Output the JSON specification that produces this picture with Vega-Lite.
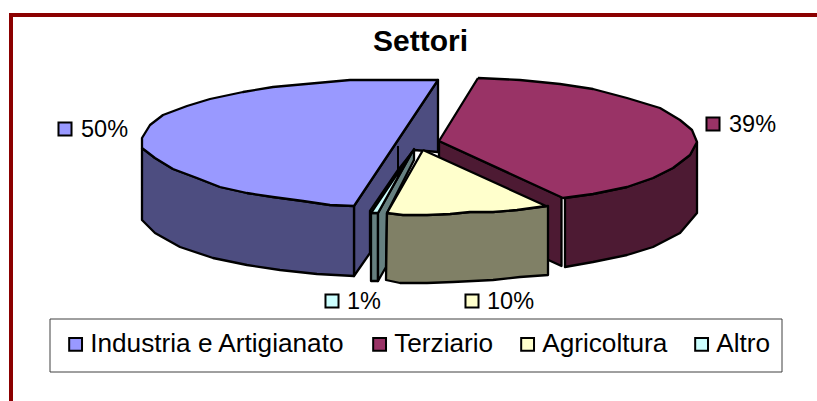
{"$schema":"https://vega.github.io/schema/vega-lite/v6.json","width":817,"height":401,"padding":0,"autosize":"none","background":"white","view":{"stroke":null},
"title":{"text":"Settori","font":"Liberation Sans","fontSize":30,"fontWeight":"bold","color":"black","dx":12,"offset":-81,"baseline":"alphabetic","anchor":"middle"},
"layer":[
{"data":{"values":[{"i":0,"x":11,"y":401},{"i":1,"x":11,"y":15},{"i":2,"x":817,"y":15}]},
"mark":{"type":"line","stroke":"#8B0000","strokeWidth":4,"clip":true},
"encoding":{"x":{"field":"x","type":"quantitative","scale":{"domain":[0,817],"nice":false},"axis":null},"y":{"field":"y","type":"quantitative","scale":{"domain":[401,0],"nice":false},"axis":null},"order":{"field":"i"}}},
{"data":{"values":[{"x":50,"y":319,"x2":782,"y2":372}]},
"mark":{"type":"rect","fill":"white","stroke":"#404040","strokeWidth":1},
"encoding":{"x":{"field":"x","type":"quantitative","scale":{"domain":[0,817],"nice":false},"axis":null},"x2":{"field":"x2"},"y":{"field":"y","type":"quantitative","scale":{"domain":[401,0],"nice":false},"axis":null},"y2":{"field":"y2"}}},
{"data":{"values":[
{"f":"Terziario lato","i":0,"x":439,"y":141},{"f":"Terziario lato","i":1,"x":561.5,"y":197},{"f":"Terziario lato","i":2,"x":561.5,"y":266},{"f":"Terziario lato","i":3,"x":439,"y":210},{"f":"Terziario lato","i":4,"x":439,"y":141},
{"f":"Terziario bordo","i":0,"x":565,"y":198},{"f":"Terziario bordo","i":1,"x":593,"y":194},{"f":"Terziario bordo","i":2,"x":627,"y":187},{"f":"Terziario bordo","i":3,"x":653,"y":178},{"f":"Terziario bordo","i":4,"x":673,"y":168},{"f":"Terziario bordo","i":5,"x":690,"y":155},{"f":"Terziario bordo","i":6,"x":697,"y":142},{"f":"Terziario bordo","i":7,"x":697,"y":213},{"f":"Terziario bordo","i":8,"x":680,"y":233},{"f":"Terziario bordo","i":9,"x":653,"y":247},{"f":"Terziario bordo","i":10,"x":627,"y":255},{"f":"Terziario bordo","i":11,"x":593,"y":262},{"f":"Terziario bordo","i":12,"x":565,"y":267},{"f":"Terziario bordo","i":13,"x":565,"y":198},
{"f":"Terziario","i":0,"x":478,"y":78},{"f":"Terziario","i":1,"x":520,"y":80},{"f":"Terziario","i":2,"x":560,"y":84},{"f":"Terziario","i":3,"x":593,"y":89},{"f":"Terziario","i":4,"x":627,"y":98},{"f":"Terziario","i":5,"x":660,"y":108},{"f":"Terziario","i":6,"x":680,"y":120},{"f":"Terziario","i":7,"x":692,"y":130},{"f":"Terziario","i":8,"x":697,"y":142},{"f":"Terziario","i":9,"x":690,"y":155},{"f":"Terziario","i":10,"x":673,"y":168},{"f":"Terziario","i":11,"x":653,"y":178},{"f":"Terziario","i":12,"x":627,"y":187},{"f":"Terziario","i":13,"x":593,"y":194},{"f":"Terziario","i":14,"x":563,"y":198},{"f":"Terziario","i":15,"x":439,"y":141},{"f":"Terziario","i":16,"x":478,"y":78},
{"f":"Industria lato","i":0,"x":354,"y":206},{"f":"Industria lato","i":1,"x":438,"y":80},{"f":"Industria lato","i":2,"x":438,"y":152},{"f":"Industria lato","i":3,"x":414,"y":150},{"f":"Industria lato","i":4,"x":398,"y":170},{"f":"Industria lato","i":5,"x":370,"y":211},{"f":"Industria lato","i":6,"x":370,"y":253},{"f":"Industria lato","i":7,"x":354,"y":276},{"f":"Industria lato","i":8,"x":354,"y":206},
{"f":"Industria bordo","i":0,"x":142,"y":148},{"f":"Industria bordo","i":1,"x":142,"y":220},{"f":"Industria bordo","i":2,"x":155,"y":233},{"f":"Industria bordo","i":3,"x":180,"y":247},{"f":"Industria bordo","i":4,"x":213,"y":258},{"f":"Industria bordo","i":5,"x":247,"y":265},{"f":"Industria bordo","i":6,"x":280,"y":270},{"f":"Industria bordo","i":7,"x":317,"y":274},{"f":"Industria bordo","i":8,"x":354,"y":276},{"f":"Industria bordo","i":9,"x":354,"y":206},{"f":"Industria bordo","i":10,"x":330,"y":205},{"f":"Industria bordo","i":11,"x":303,"y":201},{"f":"Industria bordo","i":12,"x":273,"y":197},{"f":"Industria bordo","i":13,"x":247,"y":193},{"f":"Industria bordo","i":14,"x":220,"y":187},{"f":"Industria bordo","i":15,"x":197,"y":178},{"f":"Industria bordo","i":16,"x":173,"y":169},{"f":"Industria bordo","i":17,"x":155,"y":158},{"f":"Industria bordo","i":18,"x":142,"y":148},
{"f":"Industria e Artigianato","i":0,"x":354,"y":206},{"f":"Industria e Artigianato","i":1,"x":330,"y":205},{"f":"Industria e Artigianato","i":2,"x":303,"y":201},{"f":"Industria e Artigianato","i":3,"x":273,"y":197},{"f":"Industria e Artigianato","i":4,"x":247,"y":193},{"f":"Industria e Artigianato","i":5,"x":220,"y":187},{"f":"Industria e Artigianato","i":6,"x":197,"y":178},{"f":"Industria e Artigianato","i":7,"x":173,"y":169},{"f":"Industria e Artigianato","i":8,"x":155,"y":158},{"f":"Industria e Artigianato","i":9,"x":142,"y":148},{"f":"Industria e Artigianato","i":10,"x":142,"y":138},{"f":"Industria e Artigianato","i":11,"x":150,"y":125},{"f":"Industria e Artigianato","i":12,"x":163,"y":115},{"f":"Industria e Artigianato","i":13,"x":187,"y":106},{"f":"Industria e Artigianato","i":14,"x":210,"y":99},{"f":"Industria e Artigianato","i":15,"x":243,"y":92},{"f":"Industria e Artigianato","i":16,"x":273,"y":87},{"f":"Industria e Artigianato","i":17,"x":317,"y":83},{"f":"Industria e Artigianato","i":18,"x":350,"y":80},{"f":"Industria e Artigianato","i":19,"x":438,"y":80},{"f":"Industria e Artigianato","i":20,"x":354,"y":206},
{"f":"Altro lato","i":0,"x":371,"y":213},{"f":"Altro lato","i":1,"x":378,"y":213},{"f":"Altro lato","i":2,"x":378,"y":281},{"f":"Altro lato","i":3,"x":371,"y":281},{"f":"Altro lato","i":4,"x":371,"y":213},
{"f":"Altro taglio","i":0,"x":378,"y":213},{"f":"Altro taglio","i":1,"x":414,"y":149},{"f":"Altro taglio","i":2,"x":414,"y":160},{"f":"Altro taglio","i":3,"x":387,"y":213},{"f":"Altro taglio","i":4,"x":386,"y":267},{"f":"Altro taglio","i":5,"x":378,"y":281},{"f":"Altro taglio","i":6,"x":378,"y":213},
{"f":"Altro","i":0,"x":371,"y":213},{"f":"Altro","i":1,"x":378,"y":213},{"f":"Altro","i":2,"x":412,"y":152},{"f":"Altro","i":3,"x":371,"y":213},
{"f":"Agricoltura lato","i":0,"x":387,"y":213},{"f":"Agricoltura lato","i":1,"x":403,"y":215},{"f":"Agricoltura lato","i":2,"x":427,"y":215},{"f":"Agricoltura lato","i":3,"x":450,"y":214},{"f":"Agricoltura lato","i":4,"x":470,"y":212},{"f":"Agricoltura lato","i":5,"x":493,"y":212},{"f":"Agricoltura lato","i":6,"x":517,"y":210},{"f":"Agricoltura lato","i":7,"x":548,"y":206},{"f":"Agricoltura lato","i":8,"x":548,"y":275},{"f":"Agricoltura lato","i":9,"x":520,"y":277},{"f":"Agricoltura lato","i":10,"x":493,"y":280},{"f":"Agricoltura lato","i":11,"x":453,"y":282},{"f":"Agricoltura lato","i":12,"x":427,"y":283},{"f":"Agricoltura lato","i":13,"x":400,"y":283},{"f":"Agricoltura lato","i":14,"x":386,"y":280},{"f":"Agricoltura lato","i":15,"x":387,"y":213},
{"f":"Agricoltura","i":0,"x":423,"y":150},{"f":"Agricoltura","i":1,"x":546,"y":206},{"f":"Agricoltura","i":2,"x":517,"y":210},{"f":"Agricoltura","i":3,"x":493,"y":212},{"f":"Agricoltura","i":4,"x":470,"y":212},{"f":"Agricoltura","i":5,"x":450,"y":214},{"f":"Agricoltura","i":6,"x":427,"y":215},{"f":"Agricoltura","i":7,"x":403,"y":215},{"f":"Agricoltura","i":8,"x":387,"y":213},{"f":"Agricoltura","i":9,"x":423,"y":150}
]},
"mark":{"type":"line","stroke":"black","strokeWidth":2.3,"strokeJoin":"round"},
"encoding":{"x":{"field":"x","type":"quantitative","scale":{"domain":[0,817],"nice":false},"axis":null},"y":{"field":"y","type":"quantitative","scale":{"domain":[401,0],"nice":false},"axis":null},"order":{"field":"i"},"detail":{"field":"f"},
"fill":{"field":"f","type":"nominal","legend":null,"scale":{"domain":["Terziario lato","Terziario bordo","Terziario","Industria lato","Industria bordo","Industria e Artigianato","Altro lato","Altro taglio","Altro","Agricoltura lato","Agricoltura"],"range":["#4D1A33","#4D1A33","#993366","#4D4D80","#4D4D80","#9999FF","#668080","#668080","#CCFFFF","#808066","#FFFFCC"]}}}},
{"data":{"values":[{"i":0,"x":398,"y":146},{"i":1,"x":398,"y":170}]},
"mark":{"type":"line","stroke":"black","strokeWidth":2},
"encoding":{"x":{"field":"x","type":"quantitative","scale":{"domain":[0,817],"nice":false},"axis":null},"y":{"field":"y","type":"quantitative","scale":{"domain":[401,0],"nice":false},"axis":null},"order":{"field":"i"}}},
{"data":{"values":[{"Settore":"Industria e Artigianato","p":"50%","x":65,"y":129,"ty":130,"tx":81},{"Settore":"Terziario","p":"39%","x":713,"y":124,"ty":125,"tx":729},{"Settore":"Agricoltura","p":"10%","x":472,"y":301,"ty":302,"tx":487},{"Settore":"Altro","p":"1%","x":332,"y":301,"ty":302,"tx":347}]},
"layer":[
{"mark":{"type":"square","size":170,"stroke":"black","strokeWidth":2,"opacity":1},
"encoding":{"x":{"field":"x","type":"quantitative","scale":{"domain":[0,817],"nice":false},"axis":null},"y":{"field":"y","type":"quantitative","scale":{"domain":[401,0],"nice":false},"axis":null},
"fill":{"field":"Settore","type":"nominal","sort":null,"scale":{"domain":["Industria e Artigianato","Terziario","Agricoltura","Altro"],"range":["#9999FF","#993366","#FFFFCC","#CCFFFF"]},
"legend":{"orient":"none","legendX":62.5,"legendY":331,"direction":"horizontal","columns":4,"title":null,"symbolType":"square","symbolSize":165,"symbolStrokeColor":"black","symbolStrokeWidth":2,"symbolOpacity":1,"labelFont":"Liberation Sans","labelFontSize":26.2,"labelColor":"black","labelLimit":400,"labelOffset":1.5,"columnPadding":21,"padding":0}}}},
{"mark":{"type":"text","align":"left","baseline":"middle","font":"Liberation Sans","fontSize":23.5,"color":"black"},
"encoding":{"x":{"field":"tx","type":"quantitative","scale":{"domain":[0,817],"nice":false},"axis":null},"y":{"field":"ty","type":"quantitative","scale":{"domain":[401,0],"nice":false},"axis":null},"text":{"field":"p"}}}
]}
],
"resolve":{"scale":{"fill":"independent"}}}
